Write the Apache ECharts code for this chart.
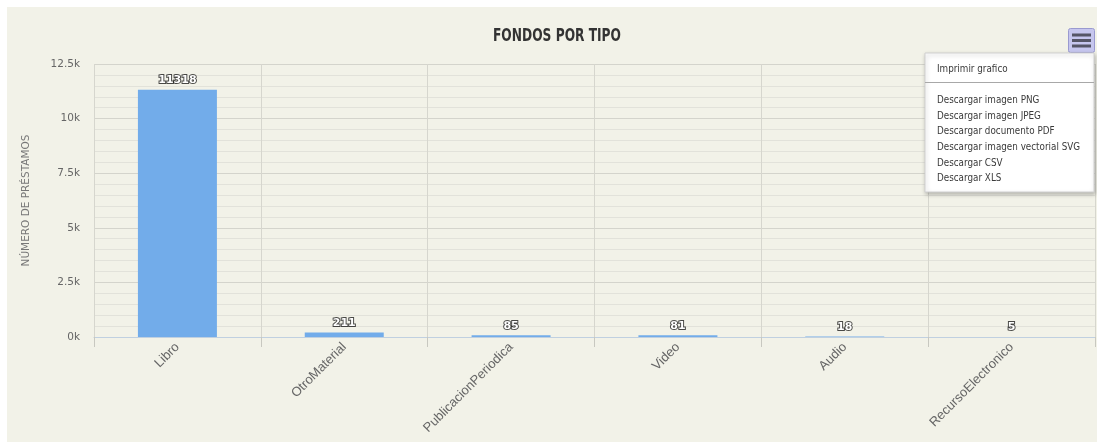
<!DOCTYPE html>
<html>
<head>
<meta charset="utf-8">
<script src="https://cdn.jsdelivr.net/npm/echarts@6/dist/echarts.min.js"></script>
<style>
  html, body { margin: 0; padding: 0; background: #ffffff; }
  #wrap { position: relative; width: 1097px; height: 442px; overflow: hidden; background: #ffffff; }
  #chart { position: absolute; left: 7px; top: 7px; width: 1090px; height: 435px; }
</style>
</head>
<body>
<div id="wrap"><div id="chart"></div></div>
<script>
// Fondos de la biblioteca agrupados por tipo
const categories = ['Libro', 'OtroMaterial', 'PublicacionPeriodica', 'Video', 'Audio', 'RecursoElectronico'];
const prestamos = [11318, 211, 85, 81, 18, 5];
const yTicks = [0, 2500, 5000, 7500, 10000, 12500];
const chartTitle = 'FONDOS POR TIPO';
const menuItems = ['Descargar imagen PNG', 'Descargar imagen JPEG', 'Descargar documento PDF',
  'Descargar imagen vectorial SVG', 'Descargar CSV', 'Descargar XLS'];
const printItem = 'Imprimir grafico';

const sans = '"DejaVu Sans", sans-serif';

const chart = echarts.init(document.getElementById('chart'), null, { renderer: 'canvas' });

// narrow text helper: horizontally squeezed label
function narrowText(text, x, y, size, weight, fill, sx, align) {
  return {
    type: 'text', z: 101, x: x, y: y, scaleX: sx, scaleY: 1,
    style: {
      text: text, font: (weight || 'normal') + ' ' + size + 'px ' + sans,
      fill: fill, verticalAlign: 'middle', align: align || 'left'
    }
  };
}

// export menu
const menuX = 918, menuY = 46, menuW = 169, menuH = 139;
const itemYs = [93, 109, 124, 140, 156, 171];
const menuScale = 0.8;
const menuGraphics = [
  {
    type: 'rect', z: 100,
    shape: { x: menuX, y: menuY, width: menuW, height: menuH },
    style: { fill: '#ffffff', stroke: '#d0d0d0', lineWidth: 1,
      shadowBlur: 4, shadowColor: 'rgba(0,0,0,0.25)', shadowOffsetX: 1, shadowOffsetY: 2 }
  },
  narrowText(printItem, menuX + 12, 62, 11, 'normal', '#3a3a3a', menuScale),
  {
    type: 'line', z: 101,
    shape: { x1: menuX, y1: 75.5, x2: menuX + menuW, y2: 75.5 },
    style: { stroke: '#a8a8a8', lineWidth: 1 }
  }
].concat(menuItems.map((t, i) => narrowText(t, menuX + 12, itemYs[i], 11, 'normal', '#3a3a3a', menuScale)));

// context button (three bars)
const btn = [
  {
    type: 'rect', z: 99,
    shape: { x: 1061.5, y: 21.5, width: 26, height: 24, r: 2 },
    style: { fill: '#c6c6ee', stroke: '#9a9ad0', lineWidth: 1 }
  }
].concat([28, 33.5, 39].map(y => ({
  type: 'line', z: 100,
  shape: { x1: 1065, y1: y, x2: 1084, y2: y },
  style: { stroke: '#555566', lineWidth: 3 }
})));

// chart title
const titleGraphic = narrowText(chartTitle, 550, 29, 18, 'bold', '#333333', 0.68, 'center');

chart.setOption({
  backgroundColor: '#f2f2e8',
  animation: false,
  grid: { left: 87, right: 2, top: 57, bottom: 105, containLabel: false },
  xAxis: {
    type: 'category',
    data: categories,
    axisLine: { show: true, lineStyle: { color: '#c0d0e0', width: 1 } },
    axisTick: { show: true, length: 10, lineStyle: { color: '#c8c8c0' } },
    splitLine: { show: true, lineStyle: { color: '#d6d6ce', width: 1 } },
    axisLabel: {
      rotate: 45, margin: 8, interval: 0,
      fontFamily: '"Liberation Sans", Arial, sans-serif', fontSize: 13, color: '#666666'
    }
  },
  yAxis: {
    type: 'value',
    min: yTicks[0],
    max: yTicks[yTicks.length - 1],
    interval: yTicks[1] - yTicks[0],
    name: 'NÚMERO DE PRÉSTAMOS',
    nameLocation: 'middle',
    nameRotate: 90,
    nameGap: 62,
    nameTextStyle: { fontFamily: sans, fontSize: 10.5, color: '#777777' },
    axisLine: { show: false },
    axisTick: { show: false },
    axisLabel: {
      margin: 14, fontFamily: sans, fontSize: 10.5, color: '#666666',
      formatter: v => (v / 1000) + 'k'
    },
    splitLine: { show: true, lineStyle: { color: '#d4d4cc', width: 1 } },
    minorTick: { show: false, splitNumber: 5 },
    minorSplitLine: { show: true, lineStyle: { color: '#e2e2da', width: 1 } }
  },
  series: [{
    type: 'bar',
    data: prestamos,
    barWidth: 79,
    itemStyle: { color: '#72acea' },
    label: {
      show: true, position: 'top', distance: 4,
      fontFamily: sans, fontSize: 11, fontWeight: 'bold',
      color: '#ffffff', textBorderColor: 'rgba(0,0,0,0.7)', textBorderWidth: 2
    }
  }],
  graphic: { elements: [titleGraphic].concat(btn, menuGraphics) }
});
</script>
</body>
</html>
